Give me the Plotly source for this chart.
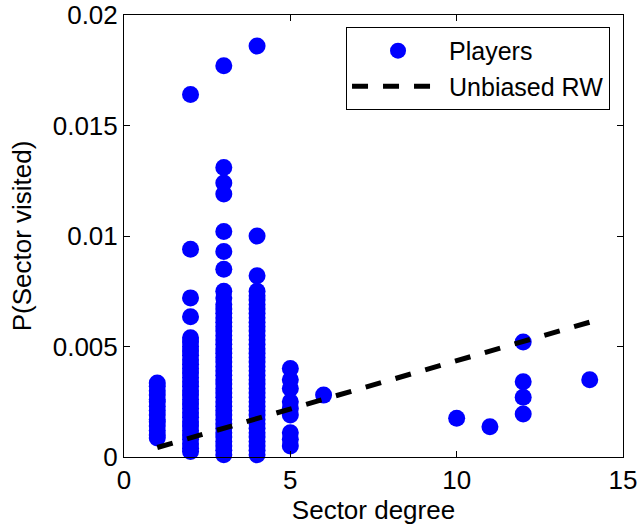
import plotly.graph_objects as go

# ---- data ----
deg1 = [0.00335, 0.0032, 0.0030, 0.0028, 0.0026, 0.0025, 0.0023, 0.0021, 0.0019,
        0.0017, 0.0016, 0.0014, 0.0012, 0.0010, 0.00086]
deg2 = [0.0164, 0.0094, 0.0072, 0.00635, 0.0054, 0.0052, 0.0050, 0.0048, 0.0046,
        0.0044, 0.0042, 0.0040, 0.0038, 0.0036, 0.0034, 0.0032, 0.0030, 0.0028,
        0.0026, 0.0024, 0.0022, 0.0020, 0.0018, 0.0016, 0.0014, 0.0012, 0.0010,
        0.0008, 0.0006, 0.0004, 0.00025]
deg3 = [0.0177, 0.0131, 0.0124, 0.0119, 0.0102, 0.0093, 0.0085, 0.0075, 0.0072,
        0.0069, 0.0067, 0.0065, 0.0063, 0.0061, 0.0059, 0.0057, 0.0055, 0.0053,
        0.0051, 0.0049, 0.0047, 0.0045, 0.0043, 0.0041, 0.0039, 0.0037, 0.0035,
        0.0033, 0.0031, 0.0029, 0.0027, 0.0025, 0.0023, 0.0021, 0.0019, 0.0017,
        0.0015, 0.0013, 0.0011, 0.0009, 0.0007, 0.0005, 0.0003, 0.0001]
deg4 = [0.0186, 0.0100, 0.0082, 0.0075, 0.0073, 0.0071, 0.0069, 0.0067, 0.0065,
        0.0063, 0.0061, 0.0059, 0.0057, 0.0055, 0.0053, 0.0051, 0.0049, 0.0047,
        0.0045, 0.0043, 0.0041, 0.0039, 0.0037, 0.0035, 0.0033, 0.0031, 0.0029,
        0.0027, 0.0025, 0.0023, 0.0021, 0.0019, 0.0017, 0.0015, 0.0013, 0.0011,
        0.0009, 0.0007, 0.0005, 0.0003, 0.0001]
deg5 = [0.0040, 0.0035, 0.0031, 0.0025, 0.0022, 0.0019, 0.0011, 0.0008, 0.0005]
deg6 = [0.0028]
deg10 = [0.00175]
deg11 = [0.00137]
deg12 = [0.0052, 0.0034, 0.0027, 0.00195]
deg14 = [0.0035]

player_groups = [(1, deg1), (2, deg2), (3, deg3), (4, deg4), (5, deg5), (6, deg6),
                 (10, deg10), (11, deg11), (12, deg12), (14, deg14)]

rw_degree = [1, 14]
rw_prob = [0.00043, 0.0061]

x_ticks = [0, 5, 10, 15]
y_ticks = [0, 0.005, 0.01, 0.015, 0.02]
y_tick_text = ["0", "0.005", "0.01", "0.015", "0.02"]

# ---- build ----
px, py = [], []
for d, vals in player_groups:
    px += [d] * len(vals)
    py += vals

FONT = "Liberation Sans, Arial, Helvetica, sans-serif"

fig = go.Figure()
fig.add_trace(go.Scatter(
    x=px, y=py, mode="markers", name="Players",
    marker=dict(color="#0000FF", size=17, line=dict(width=0)),
    cliponaxis=False,
))
fig.add_trace(go.Scatter(
    x=rw_degree, y=rw_prob, mode="lines", name="Unbiased RW",
    line=dict(color="black", width=5, dash="16px,15px"),
))

axis_common = dict(
    showgrid=False, zeroline=False, showline=True, linecolor="black",
    linewidth=1, mirror="ticks", ticks="inside", ticklen=6,
    tickcolor="black", tickwidth=1, automargin=False,
    tickfont=dict(family=FONT, size=26, color="black"),
)

fig.update_layout(
    width=640, height=529,
    margin=dict(l=124, r=17, t=15, b=72),
    plot_bgcolor="white", paper_bgcolor="white",
    font=dict(family=FONT, color="black"),
    xaxis=dict(range=[0, 15], tickvals=x_ticks,
               title=dict(text="Sector degree", font=dict(size=26), standoff=2),
               **axis_common),
    yaxis=dict(range=[0, 0.02], tickvals=y_ticks, ticktext=y_tick_text,
               title=dict(text="P(Sector visited)", font=dict(size=26), standoff=13),
               **axis_common),
    legend=dict(
        x=0.974, y=0.973, xanchor="right", yanchor="top",
        bordercolor="black", borderwidth=1, bgcolor="white",
        font=dict(family=FONT, size=25, color="black"),
        itemwidth=92, tracegroupgap=0,
    ),
)

fig.write_html(
    "out.html",
    config={"displayModeBar": False},
    post_script="document.body.style.margin='0';document.body.style.overflow='hidden';",
)
